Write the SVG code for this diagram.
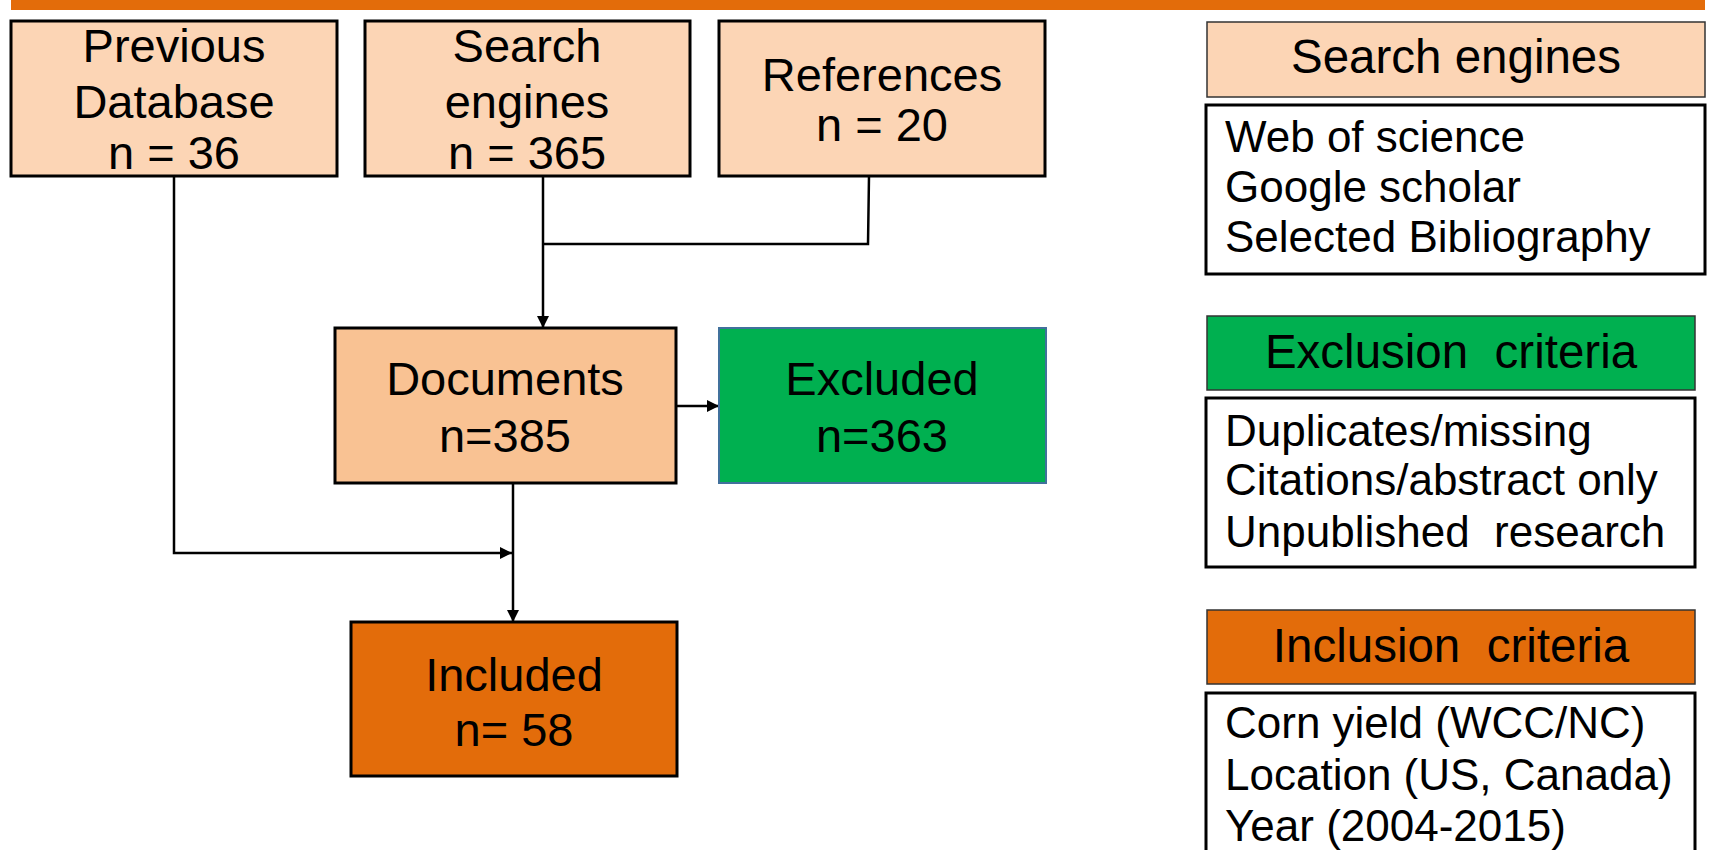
<svg xmlns="http://www.w3.org/2000/svg" width="1717" height="850" viewBox="0 0 1717 850">
<style>
text{font-family:"Liberation Sans",Arial,sans-serif;fill:#000}
.c{text-anchor:middle;font-size:47px}
.h{text-anchor:middle;font-size:47.5px}
.l{font-size:44px}
.peach{fill:#FCD5B5;stroke:#000;stroke-width:3}
.doc{fill:#F9C293;stroke:#000;stroke-width:3}
.exc{fill:#00B050;stroke:#41719C;stroke-width:2}
.inc{fill:#E36C0A;stroke:#000;stroke-width:3}
.hdr{stroke:#333;stroke-width:1.5}
.wb{fill:#fff;stroke:#000;stroke-width:3}
.conn path{fill:none;stroke:#000;stroke-width:2.5}
</style>
<defs>
<marker id="ah" markerUnits="userSpaceOnUse" markerWidth="12" markerHeight="12" refX="12" refY="6" orient="auto">
<path d="M0,0 L12,6 L0,12 z" fill="#000"/>
</marker>
</defs>
<rect x="11" y="0" width="1694" height="10" fill="#E36C0A"/>

<g class="conn">
<path d="M174,176 V553 H512" marker-end="url(#ah)"/>
<path d="M543,176 V328" marker-end="url(#ah)"/>
<path d="M869,176 L868,244 H543"/>
<path d="M676,406 H719" marker-end="url(#ah)"/>
<path d="M513,483 V622" marker-end="url(#ah)"/>
</g>

<g id="previous">
<rect class="peach" x="11" y="21" width="326" height="155"/>
<text class="c" x="174" y="62">Previous</text>
<text class="c" x="174" y="118">Database</text>
<text class="c" x="174" y="169">n = 36</text>
</g>
<g id="search">
<rect class="peach" x="365" y="21" width="325" height="155"/>
<text class="c" x="527" y="62">Search</text>
<text class="c" x="527" y="118">engines</text>
<text class="c" x="527" y="169">n = 365</text>
</g>
<g id="references">
<rect class="peach" x="719" y="21" width="326" height="155"/>
<text class="c" x="882" y="91">References</text>
<text class="c" x="882" y="141">n = 20</text>
</g>
<g id="documents">
<rect class="doc" x="335" y="328" width="341" height="155"/>
<text class="c" x="505" y="395">Documents</text>
<text class="c" x="505" y="452">n=385</text>
</g>
<g id="excluded">
<rect class="exc" x="719" y="328" width="327" height="155"/>
<text class="c" x="882" y="395">Excluded</text>
<text class="c" x="882" y="452">n=363</text>
</g>
<g id="included">
<rect class="inc" x="351" y="622" width="326" height="154"/>
<text class="c" x="514" y="691">Included</text>
<text class="c" x="514" y="746">n= 58</text>
</g>

<g id="search-engines-legend">
<rect class="hdr" x="1207" y="22" width="498" height="75" fill="#FCD5B5"/>
<text class="h" x="1456" y="73">Search engines</text>
<rect class="wb" x="1206" y="105" width="499" height="169"/>
<text class="l" x="1225" y="152">Web of science</text>
<text class="l" x="1225" y="202">Google scholar</text>
<text class="l" x="1225" y="252">Selected Bibliography</text>
</g>
<g id="exclusion-legend">
<rect class="hdr" x="1207" y="316" width="488" height="74" fill="#00B050"/>
<text class="h" x="1451" y="368" xml:space="preserve">Exclusion  criteria</text>
<rect class="wb" x="1206" y="398" width="489" height="169"/>
<text class="l" x="1225" y="446">Duplicates/missing</text>
<text class="l" x="1225" y="495">Citations/abstract only</text>
<text class="l" x="1225" y="547" xml:space="preserve">Unpublished  research</text>
</g>
<g id="inclusion-legend">
<rect class="hdr" x="1207" y="610" width="488" height="74" fill="#E36C0A"/>
<text class="h" x="1451" y="662" xml:space="preserve">Inclusion  criteria</text>
<rect class="wb" x="1206" y="693" width="489" height="170"/>
<text class="l" x="1225" y="738">Corn yield (WCC/NC)</text>
<text class="l" x="1225" y="790">Location (US, Canada)</text>
<text class="l" x="1225" y="841">Year (2004-2015)</text>
</g>
</svg>
